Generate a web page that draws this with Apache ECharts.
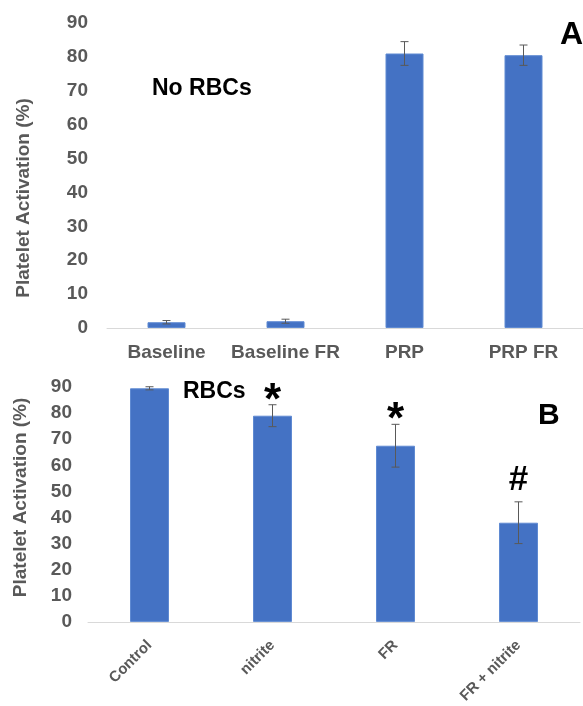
<!DOCTYPE html>
<html>
<head>
<meta charset="utf-8">
<script src="https://cdn.jsdelivr.net/npm/echarts@6/dist/echarts.min.js"></script>
<style>
html,body{margin:0;padding:0;background:#fff;}
#main{width:583px;height:706px;}
</style>
</head>
<body>
<div id="main"></div>
<script>
// ---- data ----
var catsA = ['Baseline', 'Baseline FR', 'PRP', 'PRP FR'];
var valsA = [1.7, 2.0, 81.0, 80.5];
var errA  = [0.5, 0.6, 3.5, 3.0];

var catsB = ['Control', 'nitrite', 'FR', 'FR + nitrite'];
var valsB = [89.5, 79.0, 67.5, 38.0];
var errB  = [0.6, 4.2, 8.2, 8.0];
var marksB = ['', '*', '*', '#'];

var yTicksMax = 90, yTickStep = 10;
var yName = 'Platelet Activation (%)';

// ---- style ----
var FONT = '"Liberation Sans", Arial, sans-serif';
var GRAY = '#595959';
var BAR = '#4472C4';
var AXISLINE = '#d9d9d9';
var MARK_STYLE = {
  '*': { size: 44, dy: -3 },
  '#': { size: 35, dy: -21 }
};

function errData(vals, errs) {
  return vals.map(function (v, i) { return [i, v, errs[i]]; });
}

function makeErrRender(marks) {
  return function (params, api) {
    var i = params.dataIndex;
    var x = api.value(0), v = api.value(1), e = api.value(2);
    var pt = api.coord([x, v + e]);
    var pb = api.coord([x, v - e]);
    var hw = 4;
    var st = { stroke: GRAY, lineWidth: 1 };
    var children = [
      { type: 'line', shape: { x1: pt[0], y1: pt[1], x2: pb[0], y2: pb[1] }, style: st },
      { type: 'line', shape: { x1: pt[0] - hw, y1: pt[1], x2: pt[0] + hw, y2: pt[1] }, style: st },
      { type: 'line', shape: { x1: pb[0] - hw, y1: pb[1], x2: pb[0] + hw, y2: pb[1] }, style: st }
    ];
    var m = marks ? marks[i] : '';
    if (m) {
      var ms = MARK_STYLE[m] || { size: 30, dy: -10 };
      children.push({
        type: 'text',
        style: {
          text: m, x: pt[0], y: pt[1] + ms.dy,
          align: 'center', verticalAlign: 'middle',
          font: 'bold ' + ms.size + 'px ' + FONT, fill: '#000'
        }
      });
    }
    return { type: 'group', children: children };
  };
}

var chart = echarts.init(document.getElementById('main'), null, { renderer: 'canvas' });

var option = {
  backgroundColor: '#fff',
  animation: false,
  textStyle: { fontFamily: FONT },
  grid: [
    { left: 107, top: 23, width: 480, height: 305 },
    { left: 88, top: 387, width: 492, height: 236 }
  ],
  xAxis: [
    {
      type: 'category', gridIndex: 0, data: catsA,
      axisLine: { lineStyle: { color: AXISLINE, width: 1 } },
      axisTick: { show: false },
      axisLabel: { color: GRAY, fontWeight: 'bold', fontSize: 19, margin: 15, interval: 0, fontFamily: FONT }
    },
    {
      type: 'category', gridIndex: 1, data: catsB,
      axisLine: { lineStyle: { color: AXISLINE, width: 1 } },
      axisTick: { show: false },
      axisLabel: { color: GRAY, fontWeight: 'bold', fontSize: 15, margin: 21, rotate: 45, interval: 0, fontFamily: FONT }
    }
  ],
  yAxis: [
    {
      type: 'value', gridIndex: 0, min: 0, max: yTicksMax, interval: yTickStep,
      splitLine: { show: false }, axisLine: { show: false }, axisTick: { show: false },
      axisLabel: { color: GRAY, fontWeight: 'bold', fontSize: 19, margin: 19, fontFamily: FONT },
      name: yName, nameLocation: 'middle', nameGap: 74, nameRotate: 90,
      nameTextStyle: { color: GRAY, fontWeight: 'bold', fontSize: 19, fontFamily: FONT, padding: [0, 45, 0, 0] }
    },
    {
      type: 'value', gridIndex: 1, min: 0, max: yTicksMax, interval: yTickStep,
      splitLine: { show: false }, axisLine: { show: false }, axisTick: { show: false },
      axisLabel: { color: GRAY, fontWeight: 'bold', fontSize: 19, margin: 16, fontFamily: FONT },
      name: yName, nameLocation: 'middle', nameGap: 58, nameRotate: 90,
      nameTextStyle: { color: GRAY, fontWeight: 'bold', fontSize: 19, fontFamily: FONT, padding: [0, 0, 0, 14] }
    }
  ],
  series: [
    {
      type: 'bar', xAxisIndex: 0, yAxisIndex: 0, data: valsA, barWidth: 38,
      itemStyle: { color: BAR, borderColor: '#5f8ad2', borderWidth: 1 }
    },
    {
      type: 'custom', xAxisIndex: 0, yAxisIndex: 0, data: errData(valsA, errA),
      renderItem: makeErrRender(null), encode: { x: 0, y: 1 }, z: 5
    },
    {
      type: 'bar', xAxisIndex: 1, yAxisIndex: 1, data: valsB, barWidth: 39,
      itemStyle: { color: BAR, borderColor: '#5f8ad2', borderWidth: 1 }
    },
    {
      type: 'custom', xAxisIndex: 1, yAxisIndex: 1, data: errData(valsB, errB),
      renderItem: makeErrRender(marksB), encode: { x: 0, y: 1 }, z: 5
    }
  ],
  graphic: [
    { type: 'text', left: 152, top: 77, style: { text: 'No RBCs', font: 'bold 23px ' + FONT, fill: '#000' } },
    { type: 'text', right: 0, top: 19, style: { text: 'A', font: 'bold 32px ' + FONT, fill: '#000' } },
    { type: 'text', left: 183, top: 380, style: { text: 'RBCs', font: 'bold 23px ' + FONT, fill: '#000' } },
    { type: 'text', left: 538, top: 401, style: { text: 'B', font: 'bold 30px ' + FONT, fill: '#000' } }
  ]
};

chart.setOption(option);
</script>
</body>
</html>
